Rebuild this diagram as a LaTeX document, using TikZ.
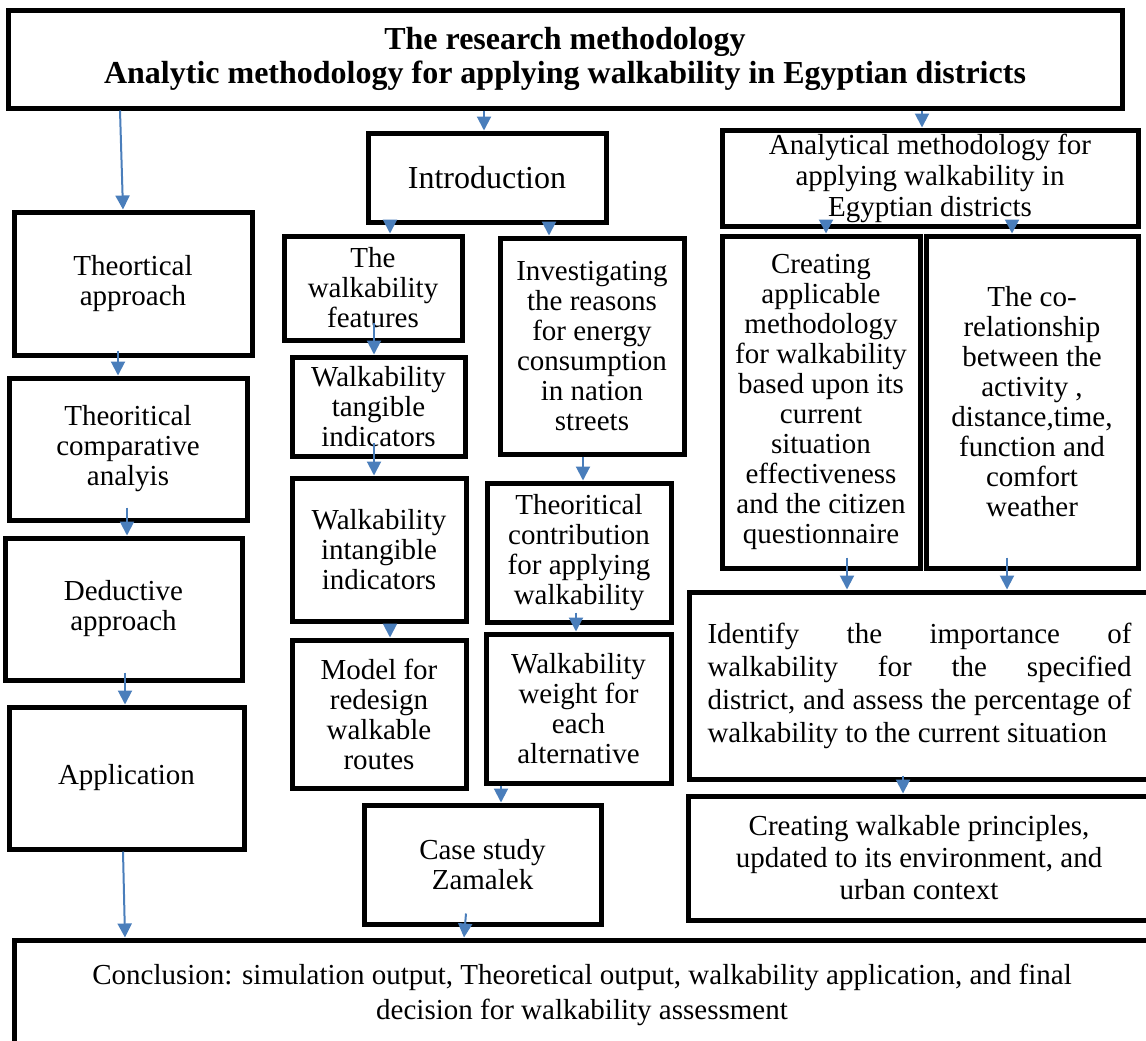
\documentclass[tikz,border=0pt]{standalone}
\usepackage{fontspec}
\setmainfont{Liberation Serif}
\usepackage{xcolor}
\usetikzlibrary{arrows.meta}
\definecolor{arrowblue}{RGB}{74,126,187}

\begin{document}
\begin{tikzpicture}[x=0.5pt,y=-0.5pt,
        box/.style={draw, line width=2.5pt, align=center, inner sep=0pt, fill=white,
            font=\fontsize{14.5}{15}\selectfont},
        arr/.style={arrowblue, line width=1pt, -{Triangle[width=7pt,length=7pt]}}]
                \useasboundingbox (0,0) rectangle (1146,1040);
                \node[box, minimum width=557pt, minimum height=49pt, font=\bfseries\fontsize{16}{17}\selectfont] (title) at (565,59)
                    {The research methodology\\Analytic methodology for applying walkability in Egyptian districts};
                \node[box, minimum width=119pt, minimum height=44.5pt, font=\fontsize{16}{17}\selectfont] (intro) at (487,177.5) {Introduction};
                \node[box, minimum width=208pt, minimum height=48pt, font=\fontsize{14.5}{15.5}\selectfont] (anal) at (930,178)
                    {Analytical methodology for\\applying walkability in\\Egyptian districts};
                \node[box, minimum width=119pt, minimum height=71.5pt] (theo) at (133,283.5) {Theortical\\approach};
                \node[box, minimum width=119pt, minimum height=71pt] (comp) at (128,449) {Theoritical\\comparative\\analyis};
                \node[box, minimum width=118.5pt, minimum height=71pt] (ded) at (123.5,609) {Deductive\\approach};
                \node[box, minimum width=117.5pt, minimum height=71pt] (app) at (126.5,778) {Application};
                \node[box, minimum width=89pt, minimum height=52pt] (feat) at (373,288) {The\\walkability\\features};
                \node[box, minimum width=92pt, minimum height=108pt] (inv) at (592,346)
                    {Investigating\\the reasons\\for energy\\consumption\\in nation\\streets};
                \node[box, minimum width=86.5pt, minimum height=49.5pt] (tang) at (378.5,406.5) {Walkability\\tangible\\indicators};
                \node[box, minimum width=87pt, minimum height=71.5pt] (intang) at (379,549.5) {Walkability\\intangible\\indicators};
                \node[box, minimum width=87pt, minimum height=74pt] (model) at (379,714) {Model for\\redesign\\walkable\\routes};
                \node[box, minimum width=92pt, minimum height=69.5pt] (contr) at (579,552.5) {Theoritical\\contribution\\for applying\\walkability};
                \node[box, minimum width=92.5pt, minimum height=74.5pt] (weight) at (578.5,708.5) {Walkability\\weight for\\each\\alternative};
                \node[box, minimum width=118.5pt, minimum height=59.5pt] (case) at (482.5,864.5) {Case study\\Zamalek};
                \node[box, minimum width=99pt, minimum height=166pt] (creat) at (821,402)
                    {Creating\\applicable\\methodology\\for walkability\\based upon its\\current\\situation\\effectiveness\\and the citizen\\questionnaire};
                \node[box, minimum width=106pt, minimum height=166pt] (corel) at (1032,402)
                    {The co-\\relationship\\between the\\activity ,\\distance,time,\\function and\\comfort\\weather};
                \node[box, minimum width=230.5pt, minimum height=93.5pt, align=justify, text width=212pt,
                    font=\fontsize{14.5}{16.5}\selectfont] (ident) at (919.5,685.5)
                    {Identify the importance of\linebreak walkability for the specified\linebreak district, and assess the percentage of\linebreak walkability to the current situation};
                \node[box, minimum width=231pt, minimum height=62pt, font=\fontsize{14.5}{16}\selectfont] (princ) at (919,858)
                    {Creating walkable principles,\\updated to its environment, and\\urban context};
                \node[box, minimum width=568pt, minimum height=55pt, font=\fontsize{14.5}{17.5}\selectfont] (concl) at (582,995)
                    {Conclusion: simulation output, Theoretical output, walkability application, and final\\decision for walkability assessment};
                \draw[arr] ([xshift=-222.5pt]title.south) -- ([xshift=-5pt]theo.north);
                \draw[arr] ([xshift=-40.5pt]title.south) -- ([xshift=-1.5pt]intro.north);
                \draw[arr] ([xshift=178.5pt]title.south) -- ([xshift=-4pt]anal.north);
                \draw[arr] ([xshift=-48.5pt]intro.south) -- ([xshift=8.5pt]feat.north);
                \draw[arr] ([xshift=31pt]intro.south) -- ([xshift=-21.5pt]inv.north);
                \draw[arr] ([xshift=-52pt]anal.south) -- ([xshift=2.5pt]creat.north);
                \draw[arr] ([xshift=41pt]anal.south) -- ([xshift=-10pt]corel.north);
                \draw[arr] ([xshift=-7.5pt,yshift=3.5pt]theo.south) -- ([xshift=-5pt]comp.north);
                \draw[arr] ([xshift=-0.5pt,yshift=7.5pt]comp.south) -- ([xshift=1.75pt]ded.north);
                \draw[arr] ([xshift=0.75pt,yshift=5pt]ded.south) -- ([xshift=-0.75pt]app.north);
                \draw[arr] ([xshift=-1.75pt]app.south) -- ([xshift=-228.5pt]concl.north);
                \draw[arr] ([xshift=0.5pt,yshift=10pt]feat.south) -- ([xshift=-2.25pt]tang.north);
                \draw[arr] ([xshift=-2.25pt,yshift=8pt]tang.south) -- ([xshift=-2.5pt]intang.north);
                \draw[arr] ([xshift=5.5pt]intang.south) -- ([xshift=5.5pt]model.north);
                \draw[arr] ([xshift=-4.5pt]inv.south) -- ([xshift=2pt]contr.north);
                \draw[arr] ([xshift=-1.5pt,yshift=6pt]contr.south) -- ([xshift=-1.25pt]weight.north);
                \draw[arr] ([xshift=-38.75pt]weight.south) -- ([xshift=9.25pt]case.north);
                \draw[arr] ([xshift=-8.25pt,yshift=6.5pt]case.south) -- ([xshift=-59pt]concl.north);
                \draw[arr] ([xshift=13pt,yshift=6.5pt]creat.south) -- ([xshift=-36.25pt]ident.north);
                \draw[arr] ([xshift=-12.5pt,yshift=6.5pt]corel.south) -- ([xshift=43.75pt]ident.north);
                \draw[arr] ([xshift=-8.25pt,yshift=3pt]ident.south) -- ([xshift=-8pt]princ.north);
            \end{tikzpicture}
\end{document}
